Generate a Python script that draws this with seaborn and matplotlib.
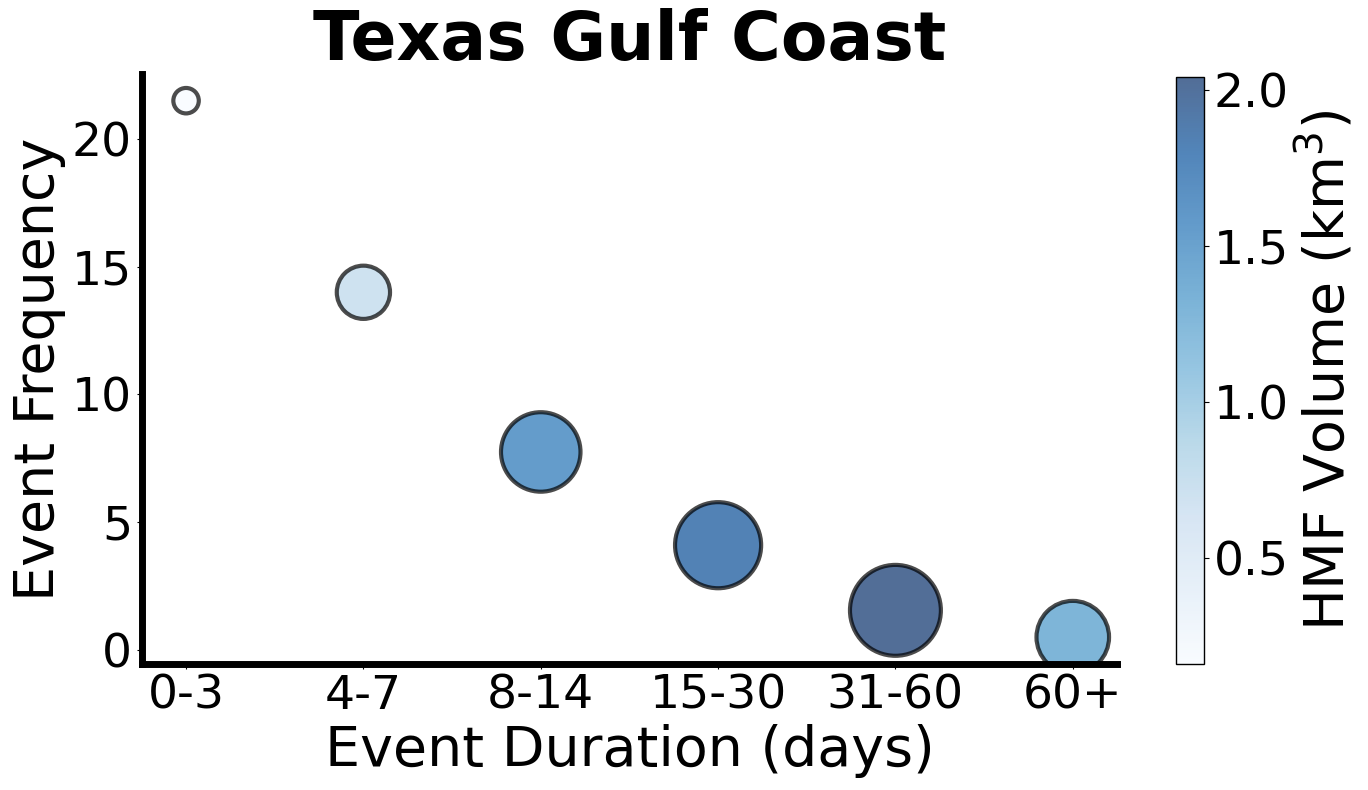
import pandas as pd
import matplotlib.pyplot as plt
import matplotlib as mpl
import seaborn as sns

# values
duration_bins = ["0-3", "4-7", "8-14", "15-30", "31-60", "60+"]
event_frequency = [21.5, 14.0, 7.75, 4.1, 1.55, 0.5]
hmf_volume = [0.16, 0.70, 1.56, 1.83, 2.04, 1.30]

df = pd.DataFrame({
	"duration": duration_bins,
	"frequency": event_frequency,
	"volume": hmf_volume,
})

sns.set_style("ticks")
plt.rcParams["font.family"] = ["DejaVu Sans"]
plt.rcParams.update({
	"text.color": "black",
	"axes.labelcolor": "black",
	"xtick.color": "black",
	"ytick.color": "black",
})

vmin, vmax = df["volume"].min(), df["volume"].max()

fig = plt.figure(figsize=(13.68, 7.9), dpi=100)
ax = fig.add_axes([0.1036, 0.1595, 0.713, 0.747])
cax = fig.add_axes([0.8596, 0.1595, 0.0205, 0.7425])

sns.scatterplot(
	data=df, x="duration", y="frequency",
	hue="volume", size="volume",
	palette="Blues", hue_norm=(vmin, vmax),
	sizes=(vmin * 2100, vmax * 2100), size_norm=(vmin, vmax),
	edgecolor="black", linewidth=3, alpha=0.7,
	legend=False, ax=ax,
)

ax.set_title("Texas Gulf Coast", fontsize=49, fontweight="bold", pad=6, color="black")
ax.set_xlabel("Event Duration (days)", fontsize=40)
ax.set_ylabel("Event Frequency", fontsize=40)
ax.set_yticks([0, 5, 10, 15, 20])
ax.tick_params(axis="both", labelsize=34, length=3.5, width=0.8)

sns.despine(ax=ax)
for side in ["left", "bottom"]:
	ax.spines[side].set_linewidth(5)
	ax.spines[side].set_color("black")

sm = mpl.cm.ScalarMappable(cmap="Blues", norm=mpl.colors.Normalize(vmin, vmax))
cbar = fig.colorbar(sm, cax=cax, alpha=0.7)
cbar.set_ticks([0.5, 1.0, 1.5, 2.0])
cbar.ax.tick_params(labelsize=34, length=3.5, width=0.8, color="black")
cbar.outline.set_linewidth(1)
cbar.outline.set_edgecolor("black")
cbar.set_label("HMF Volume (km$^3$)", fontsize=40)

plt.savefig("out.png", dpi=100)
plt.close()
